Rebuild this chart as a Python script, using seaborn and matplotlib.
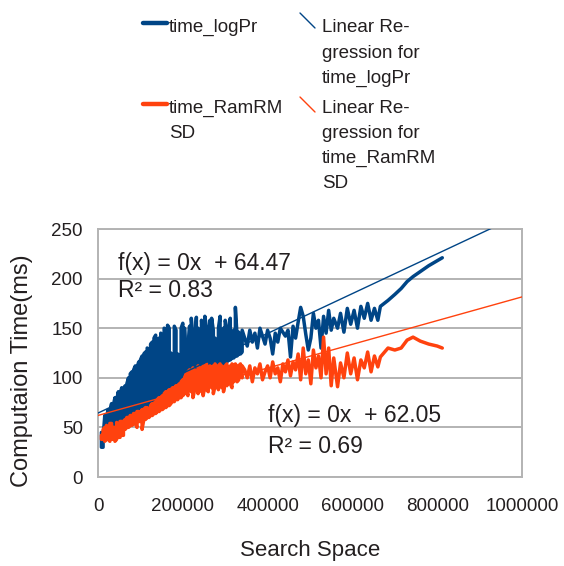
import matplotlib
matplotlib.use("Agg")
import matplotlib.pyplot as plt
from matplotlib.lines import Line2D
import numpy as np
import pandas as pd
import seaborn as sns

# ---------------- data ----------------
# several runs share the same search-space size, hence repeated x values
search_space = [
    8000, 8000, 12000, 12000, 16000, 16000, 20000, 20000, 24000, 24000,
    28000, 28000, 32000, 32000, 36000, 36000, 40000, 40000, 44000, 44000,
    48000, 48000, 52000, 52000, 56000, 56000, 60000, 60000,
    64000, 64000, 68000, 68000, 72000, 72000, 76000, 76000, 80000, 80000,
    84000, 84000, 88000, 88000, 92000, 92000, 96000, 96000, 100000, 100000,
    104000, 104000, 108000, 108000, 112000, 112000, 116000, 116000, 120000, 120000,
    124000, 124000, 128000, 128000, 132000, 132000, 136000, 136000, 140000, 140000,
    144000, 144000, 148000, 148000, 152000, 152000, 156000, 156000, 160000, 160000,
    164000, 164000, 168000, 168000, 172000, 172000, 176000, 176000, 180000, 180000,
    184000, 184000, 188000, 188000, 192000, 192000, 196000, 196000, 200000, 200000,
    204000, 204000, 208000, 208000, 212000, 212000, 216000, 216000, 220000, 220000,
    224000, 224000, 228000, 228000, 232000, 232000, 236000, 236000, 240000, 240000,
    244000, 244000, 248000, 248000, 252000, 252000, 256000, 256000, 260000, 260000,
    264000, 264000, 268000, 268000, 272000, 272000, 276000, 276000, 280000, 280000,
    284000, 284000, 288000, 288000, 292000, 292000, 296000, 296000, 300000, 300000,
    304000, 304000, 308000, 308000, 312000, 312000, 316000, 316000, 320000, 320000,
    324000, 324000, 328000, 328000, 332000, 332000, 336000, 336000, 340000, 340000,
    346000, 352000, 358000, 364000, 370000, 376000, 382000, 388000, 394000, 400000,
    406000, 412000, 418000, 424000, 430000, 436000, 442000, 448000, 454000, 460000,
    466000, 472000, 478000, 484000, 490000, 496000, 502000, 508000, 514000, 520000,
    526000, 532000, 538000, 544000, 550000, 556000,
    565000, 572000, 580000, 588000, 596000, 604000, 612000, 620000, 628000, 636000,
    644000, 652000, 660000, 666000,
    684000, 700000, 715000, 729000, 743000, 760000, 780000, 800000, 812000,
]

time_logPr = [
    45, 30, 30, 40, 62, 42, 44, 60, 68, 44,
    46, 66, 74, 46, 48, 72, 80, 48, 50, 78,
    86, 50, 52, 84, 90, 52, 54, 88,
    92, 58, 60, 94, 100, 62, 60, 104, 106, 62,
    64, 108, 112, 64, 66, 110, 116, 66, 68, 118,
    122, 68, 70, 124, 126, 70, 72, 130, 128, 72,
    74, 134, 136, 74, 76, 140, 143, 76, 78, 138,
    140, 78, 80, 145, 142, 80, 82, 150, 148, 82,
    84, 153, 150, 84, 86, 125, 120, 86, 88, 152,
    148, 88, 90, 124, 122, 90, 92, 150, 155, 92,
    96, 150, 118, 94, 98, 128, 152, 100, 100, 160,
    142, 98, 102, 130, 161, 104, 104, 150, 120, 100,
    106, 158, 146, 106, 108, 162, 150, 104, 108, 125,
    158, 110, 110, 160, 148, 106, 112, 140, 135, 112,
    110, 150, 162, 114, 114, 145, 150, 112, 116, 158,
    150, 116, 118, 140, 160, 118, 120, 145, 148, 120,
    122, 171, 142, 122, 124, 146, 140, 124, 126, 148,
    140, 132, 148, 136, 145, 130, 150, 142, 134, 148,
    140, 124, 145, 136, 150, 146, 142, 148, 121, 152,
    140, 156, 171, 162, 144, 128, 140, 165, 150, 158,
    130, 162, 145, 168, 148, 160,
    150, 165, 146, 170, 154, 168, 150, 172, 160, 175,
    158, 170, 158, 172,
    178, 184, 190, 197, 202, 207, 213, 218, 221,
]

time_RamRMSD = [
    42, 38, 38, 48, 50, 36, 38, 52, 50, 38,
    36, 54, 54, 38, 38, 50, 50, 36, 38, 55,
    52, 40, 40, 56, 56, 42, 42, 56,
    58, 48, 50, 60, 60, 50, 52, 62, 62, 52,
    54, 64, 64, 54, 50, 66, 66, 56, 56, 64,
    68, 48, 58, 68, 70, 58, 60, 70, 66, 60,
    62, 72, 74, 62, 64, 74, 76, 64, 66, 78,
    80, 66, 68, 80, 82, 68, 70, 84, 86, 70,
    72, 86, 88, 72, 74, 88, 90, 76, 76, 90,
    92, 78, 78, 92, 94, 80, 80, 96, 98, 82,
    84, 100, 104, 88, 82, 106, 108, 90, 86, 104,
    110, 80, 88, 108, 106, 92, 84, 112, 110, 90,
    86, 108, 112, 82, 92, 110, 114, 88, 86, 108,
    112, 94, 90, 110, 112, 84, 92, 114, 110, 96,
    88, 112, 114, 94, 90, 112, 108, 86, 96, 112,
    114, 92, 98, 110, 112, 94, 90, 114, 112, 96,
    100, 114, 110, 96, 98, 112, 114, 102, 100, 112,
    108, 100, 112, 96, 110, 104, 114, 98, 106, 112,
    100, 116, 104, 110, 96, 114, 106, 118, 102, 116,
    108, 124, 98, 130, 104, 118, 94, 128, 110, 122,
    100, 141, 104, 130, 92, 120,
    91, 115, 100, 125, 104, 120, 98, 118, 110, 126,
    106, 122, 111, 121,
    130, 128, 130, 138, 141, 137, 134, 132, 130,
]

# linear regression results shown on the chart
fit_x = [0, 1000000]
logPr_intercept, logPr_slope = 64.47, 0.0002007
ram_intercept, ram_slope = 62.05, 0.0001195

x_ticks = [0, 200000, 400000, 600000, 800000, 1000000]
x_tick_labels = ["0", "200000", "400000", "600000", "800000", "1000000"]
y_ticks = [0, 50, 100, 150, 200, 250]

# ---------------- style ----------------
BLUE = "#004586"
RED = "#ff420e"
GRID = "#b3b3b3"
TXT = "#231f20"

sns.set_theme(style="white")
plt.rcParams["font.family"] = ["Liberation Sans", "DejaVu Sans"]

W, H = 564, 566
fig = plt.figure(figsize=(W / 100, H / 100), dpi=100)
fig.patch.set_facecolor("white")
ax = fig.add_axes([98 / W, 1 - 477 / H, 424 / W, 248 / H])

df = pd.DataFrame({"x": search_space, "logPr": time_logPr, "ram": time_RamRMSD})
sns.lineplot(data=df, x="x", y="logPr", color=BLUE, lw=2.5, ax=ax,
             estimator=None, sort=False, zorder=3)
sns.lineplot(data=df, x="x", y="ram", color=RED, lw=2.5, ax=ax,
             estimator=None, sort=False, zorder=4)

fx = np.array(fit_x, dtype=float)
ax.plot(fx, logPr_intercept + logPr_slope * fx, color=BLUE, lw=1.0, zorder=5)
ax.plot(fx, ram_intercept + ram_slope * fx, color=RED, lw=1.0, zorder=5)

ax.set_xlim(0, 1000000)
ax.set_ylim(0, 250)
ax.set_xticks(x_ticks)
ax.set_xticklabels(x_tick_labels)
ax.set_yticks(y_ticks)
ax.set_yticklabels([str(v) for v in y_ticks])

ax.yaxis.grid(True, color=GRID, lw=1.4, zorder=0)
ax.xaxis.grid(False)
ax.set_axisbelow(True)
for s in ax.spines.values():
    s.set_color(GRID)
    s.set_linewidth(1.4)

ax.tick_params(axis="both", direction="out", length=7, width=1.4, color=GRID,
               labelsize=13.5, labelcolor=TXT)
ax.tick_params(axis="x", pad=8)
ax.tick_params(axis="y", pad=4)

ax.set_xlabel("Search Space", fontsize=16, color=TXT)
ax.set_ylabel("Computaion Time(ms)", fontsize=17, color=TXT)
ax.xaxis.set_label_coords(0.5, -0.255)
ax.yaxis.set_label_coords(-0.153, 0.427)

# regression equations
eq_kw = dict(transform=ax.transAxes, fontsize=16.5, color=TXT, va="baseline",
             ha="left", zorder=6)
ax.text(0.047, 0.835, "f(x) = 0x  + 64.47", **eq_kw)
ax.text(0.047, 0.726, "R² = 0.83", **eq_kw)
ax.text(0.401, 0.222, "f(x) = 0x  + 62.05", **eq_kw)
ax.text(0.401, 0.097, "R² = 0.69", **eq_kw)

# legend (drawn above the plot area)
def fxp(px):
    return px / W

def fyp(py):
    return 1 - py / H

fig.add_artist(Line2D([fxp(143), fxp(167)], [fyp(22.5), fyp(22.5)],
                      color=BLUE, lw=3.2, transform=fig.transFigure))
fig.add_artist(Line2D([fxp(143), fxp(167)], [fyp(103.5), fyp(103.5)],
                      color=RED, lw=3.2, transform=fig.transFigure))
fig.add_artist(Line2D([fxp(300), fxp(315)], [fyp(13), fyp(28)],
                      color=BLUE, lw=1.0, transform=fig.transFigure))
fig.add_artist(Line2D([fxp(300), fxp(315)], [fyp(97), fyp(112)],
                      color=RED, lw=1.0, transform=fig.transFigure))

leg_kw = dict(fontsize=13.5, color=TXT, va="baseline", ha="left",
              transform=fig.transFigure)
legend_lines = [
    (169, 32, "time_logPr"),
    (169, 113, "time_RamRM"),
    (169, 138, "SD"),
    (322, 32, "Linear Re-"),
    (322, 58, "gression for"),
    (322, 83, "time_logPr"),
    (322, 113, "Linear Re-"),
    (322, 138, "gression for"),
    (322, 163, "time_RamRM"),
    (322, 188, "SD"),
]
for px, py, txt in legend_lines:
    fig.text(fxp(px), fyp(py), txt, **leg_kw)

fig.savefig("out.png", dpi=100, facecolor="white")
